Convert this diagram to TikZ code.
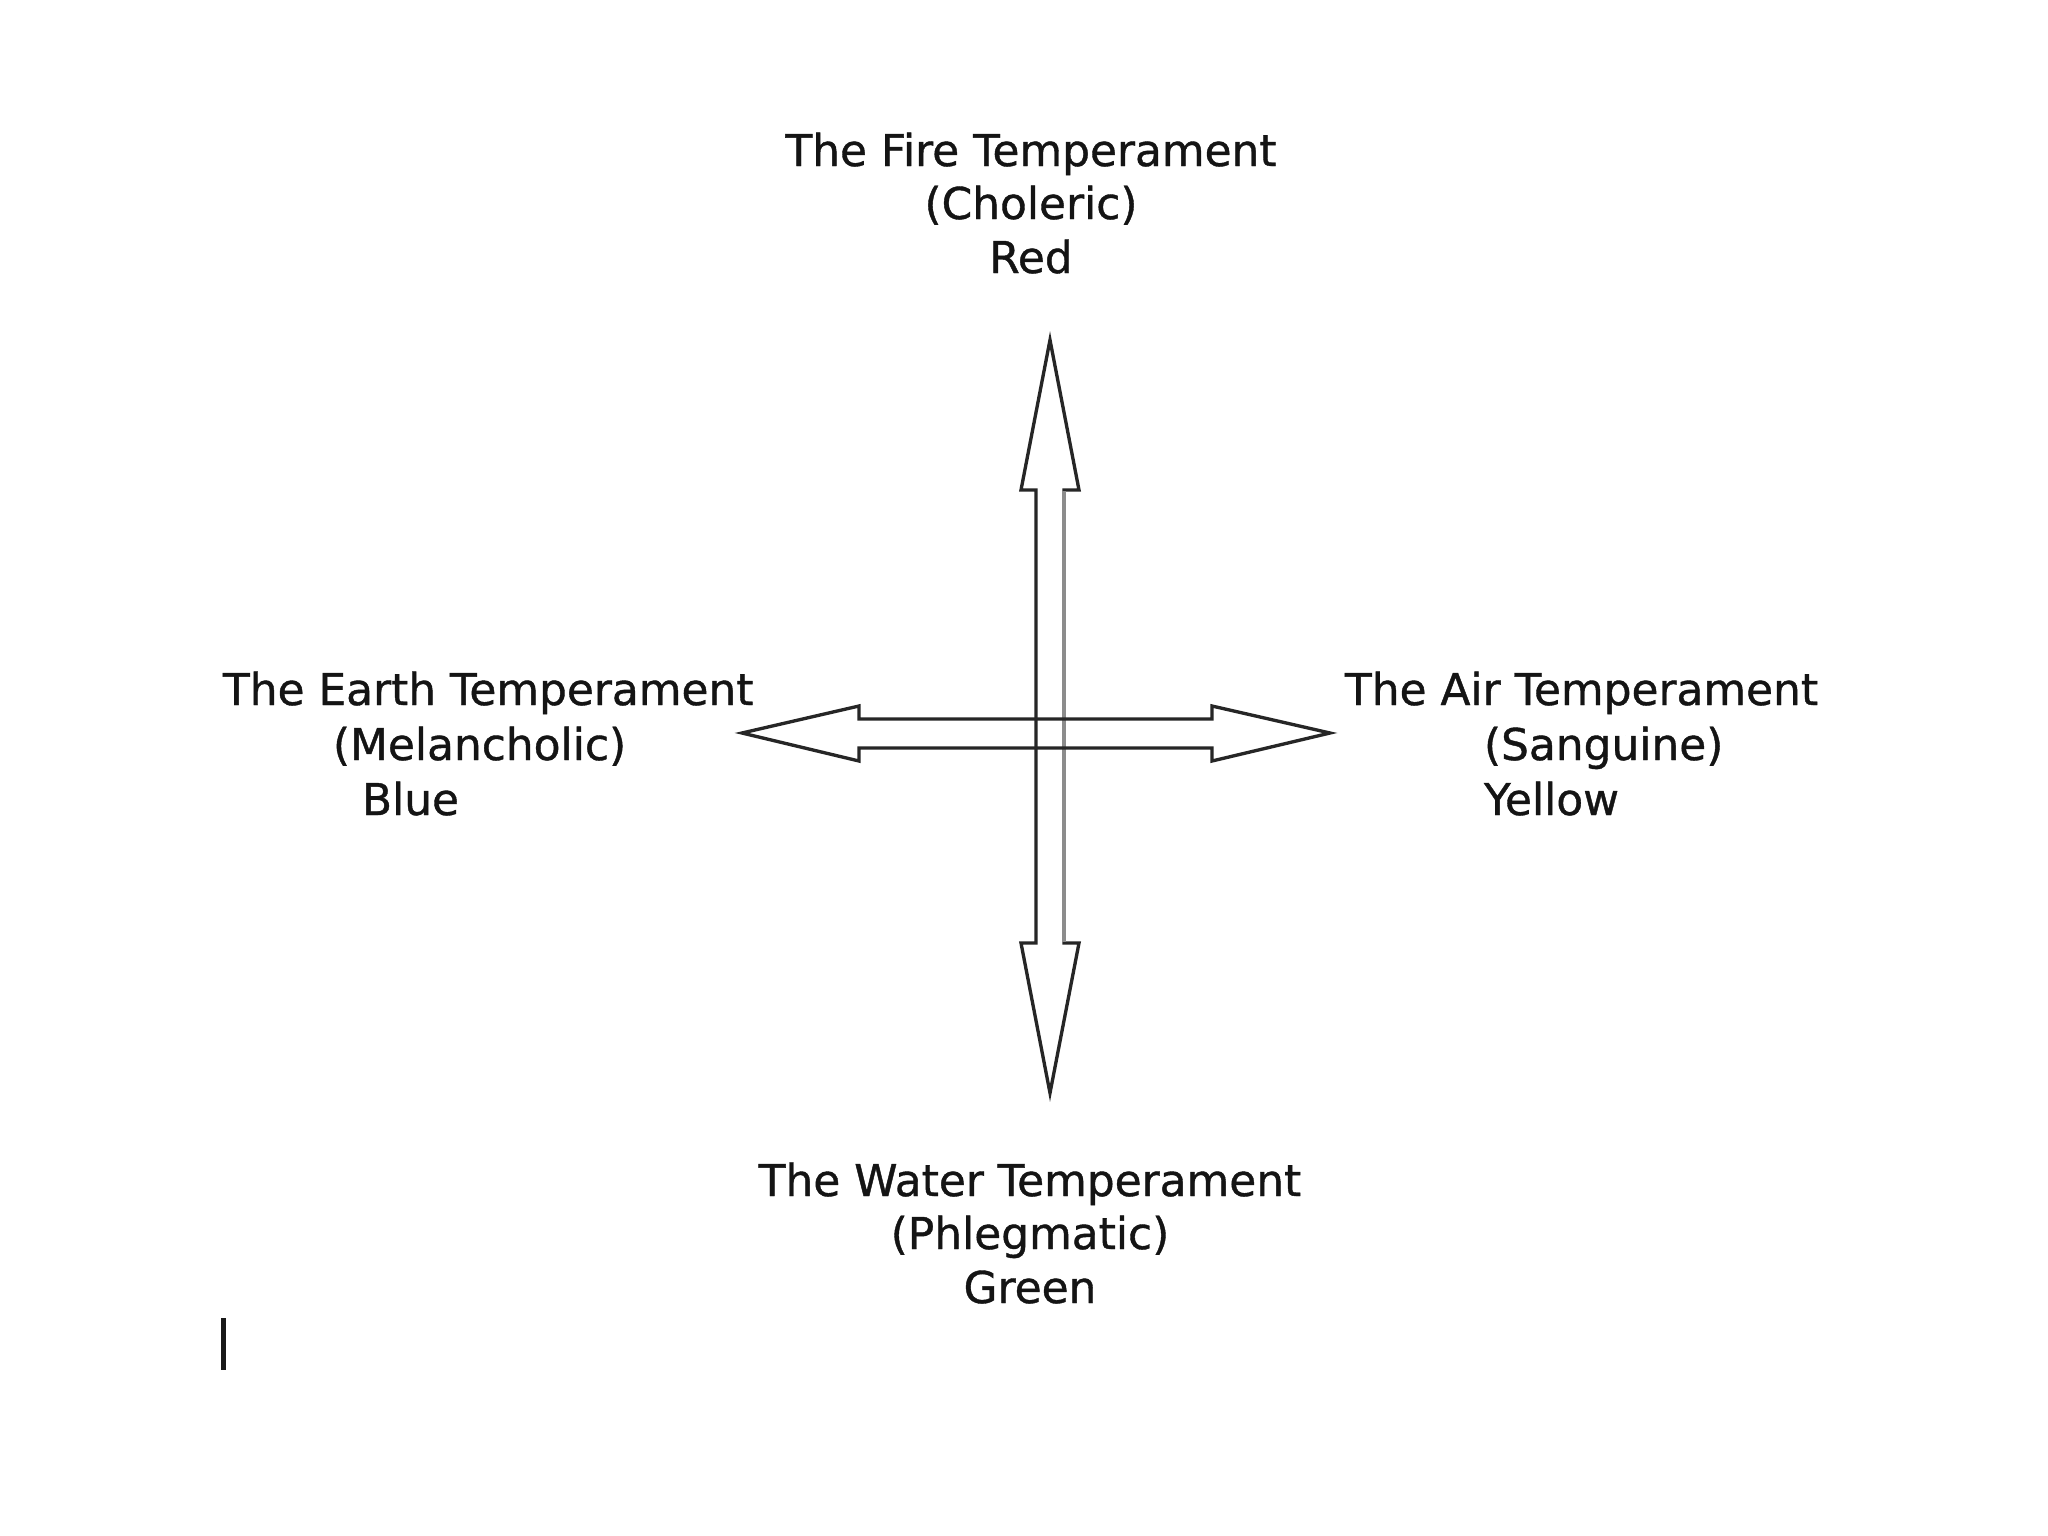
\documentclass[tikz,border=0pt]{standalone}
\usepackage{fontspec}
\setmainfont{DejaVu Sans}
\newfontfamily\lblfont{DejaVu Sans}[FakeBold=0.9]
\begin{document}
\begin{tikzpicture}[x=0.01cm,y=-0.01cm,
  lbl/.style={inner sep=0pt, outer sep=0pt, font=\lblfont\fontsize{12.47pt}{15pt}\selectfont, text=black!92},
  arrowline/.style={draw=black!85, line width=0.95pt, line join=miter},
  greyline/.style={draw=black!45, line width=1.1pt}]
\useasboundingbox (0,0) rectangle (2048,1536);
\fill[white] (0,0) rectangle (2048,1536);
% labels
\node[lbl, anchor=base] (fire1) at (1031,166) {The Fire Temperament};
\node[lbl, anchor=base] (fire2) at (1031,219) {(Choleric)};
\node[lbl, anchor=base] (fire3) at (1031,273) {Red};
\node[lbl, anchor=base west] (earth1) at (223,705) {The Earth Temperament};
\node[lbl, anchor=base west] (earth2) at (333,760) {(Melancholic)};
\node[lbl, anchor=base west] (earth3) at (362,815) {Blue};
\node[lbl, anchor=base west] (air1) at (1345,705) {The Air Temperament};
\node[lbl, anchor=base west] (air2) at (1484,760) {(Sanguine)};
\node[lbl, anchor=base west] (air3) at (1484,815) {Yellow};
\node[lbl, anchor=base] (water1) at (1030,1196) {The Water Temperament};
\node[lbl, anchor=base] (water2) at (1030,1249) {(Phlegmatic)};
\node[lbl, anchor=base] (water3) at (1030,1303) {Green};
% arrow geometry
\coordinate (vtop) at (1050,340);
\coordinate (vbot) at (1050,1093);
\coordinate (hleft) at (742,733);
\coordinate (hright) at (1330,733);
% vertical double arrow (outline)
\draw[arrowline] (1036,490) -- (1021,490) -- (vtop) -- (1079,490) -- (1064,490)
  -- (1064,943) -- (1079,943) -- (vbot) -- (1021,943) -- (1036,943) -- cycle;
\draw[greyline] (1064,491) -- (1064,942);
% horizontal double arrow (outline)
\draw[arrowline] (859,719) -- (859,706) -- (hleft) -- (859,761) -- (859,748)
  -- (1212,748) -- (1212,761) -- (hright) -- (1212,706) -- (1212,719) -- cycle;
% text cursor
\fill[black!90] (221,1318) rectangle (226,1370);
\end{tikzpicture}
\end{document}
